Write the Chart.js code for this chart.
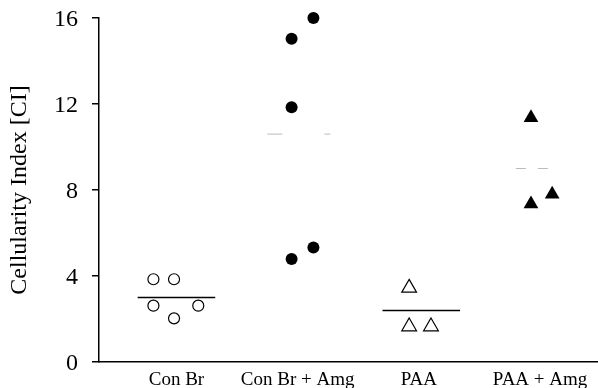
<!DOCTYPE html>
<html>
<head>
<meta charset="utf-8">
<script src="https://cdn.jsdelivr.net/npm/chart.js@4/dist/chart.umd.min.js"></script>
<style>
  html, body { margin: 0; padding: 0; background: #fff; }
  #wrap { width: 598px; height: 388px; }
</style>
</head>
<body>
<div id="wrap"><canvas id="grafico" width="598" height="388"></canvas></div>
<script>
const categories = ['Con Br', 'Con Br + Amg', 'PAA', 'PAA + Amg'];
const yTicks = [0, 4, 8, 12, 16];

// valores (Cellularity Index)
const conBrValues = [3.85, 3.85, 2.62, 2.62, 2.03];
const conBrJitter = [-0.19, -0.02, -0.19, 0.18, -0.02];
const conBrAmgValues = [16.0, 15.04, 11.85, 5.33, 4.79];
const conBrAmgJitter = [0.13, -0.05, -0.05, 0.13, -0.05];
const paaValues = [3.45, 1.65, 1.65];
const paaJitter = [-0.08, -0.08, 0.10];
const paaAmgValues = [11.36, 7.8, 7.35];
const paaAmgJitter = [-0.075, 0.10, -0.075];

const groupMeans = [3.0, 10.6, 2.4, 9.0];
const meanCenter = [0, 0.01, 0.02, -0.04];
const meanHalfWidth = [0.32, 0.26, 0.32, 0.16];

function puntos(idx, values, jitter) {
  return values.map((v, i) => ({ x: idx + jitter[i], y: v }));
}

function lineaMedia(idx) {
  const c = idx + meanCenter[idx];
  return [
    { x: c - meanHalfWidth[idx], y: groupMeans[idx] },
    { x: c + meanHalfWidth[idx], y: groupMeans[idx] }
  ];
}

const serif = "'Liberation Serif', serif";

const ctx = document.getElementById('grafico').getContext('2d');
new Chart(ctx, {
  type: 'scatter',
  data: {
    datasets: [
      { type: 'line', data: lineaMedia(0), borderColor: '#000', borderWidth: 1.5, pointRadius: 0, order: 5 },
      { type: 'line', data: lineaMedia(1), borderColor: '#bbb', borderWidth: 1, borderDash: [15, 42], pointRadius: 0, order: 5 },
      { type: 'line', data: lineaMedia(2), borderColor: '#000', borderWidth: 1.5, pointRadius: 0, order: 5 },
      { type: 'line', data: lineaMedia(3), borderColor: '#bbb', borderWidth: 1, borderDash: [10, 12], pointRadius: 0, order: 5 },
      {
        data: puntos(0, conBrValues, conBrJitter),
        pointStyle: 'circle', pointRadius: 5.5, pointBorderWidth: 1.2,
        pointBackgroundColor: '#fff', pointBorderColor: '#000', order: 1
      },
      {
        data: puntos(1, conBrAmgValues, conBrAmgJitter),
        pointStyle: 'circle', pointRadius: 6, pointBorderWidth: 0,
        pointBackgroundColor: '#000', pointBorderColor: '#000', order: 1
      },
      {
        data: puntos(2, paaValues, paaJitter),
        pointStyle: 'triangle', pointRadius: 8.5, pointBorderWidth: 1.2,
        pointBackgroundColor: '#fff', pointBorderColor: '#000', order: 1
      },
      {
        data: puntos(3, paaAmgValues, paaAmgJitter),
        pointStyle: 'triangle', pointRadius: 8.5, pointBorderWidth: 0,
        pointBackgroundColor: '#000', pointBorderColor: '#000', order: 1
      }
    ]
  },
  options: {
    responsive: false,
    animation: false,
    devicePixelRatio: 1,
    clip: false,
    layout: { autoPadding: false, padding: { top: 18, right: 0, bottom: 0, left: 0 } },
    plugins: {
      legend: { display: false },
      tooltip: { enabled: false }
    },
    scales: {
      x: {
        type: 'linear',
        min: -0.639,
        max: 3.478,
        afterBuildTicks: (scale) => { scale.ticks = categories.map((c, i) => ({ value: i })); },
        afterFit: (scale) => {
          scale.height = 26;
          scale.paddingLeft = 0; scale.paddingRight = 0;
          scale.paddingTop = 0; scale.paddingBottom = 0;
        },
        grid: { display: false },
        border: { display: true, color: '#000', width: 1.5 },
        ticks: {
          autoSkip: false,
          maxRotation: 0,
          padding: -1,
          color: '#000',
          font: { family: serif, size: 19 },
          callback: (v) => categories[v] ?? ''
        }
      },
      y: {
        min: 0,
        max: 16,
        afterBuildTicks: (scale) => { scale.ticks = yTicks.map(v => ({ value: v })); },
        afterFit: (scale) => {
          scale.width = 99;
          scale.paddingTop = 0; scale.paddingBottom = 0;
          scale.paddingLeft = 0; scale.paddingRight = 0;
        },
        grid: { display: true, drawOnChartArea: false, drawTicks: true, tickLength: 7, color: '#000', lineWidth: 1.5 },
        border: { display: true, color: '#000', width: 1.5 },
        ticks: {
          padding: 14,
          labelOffset: 2,
          color: '#000',
          font: { family: serif, size: 24 }
        },
        title: {
          display: true,
          text: 'Cellularity Index [CI]',
          color: '#000',
          padding: { top: 5, bottom: 0 },
          font: { family: serif, size: 24 }
        }
      }
    }
  }
});
</script>
</body>
</html>
